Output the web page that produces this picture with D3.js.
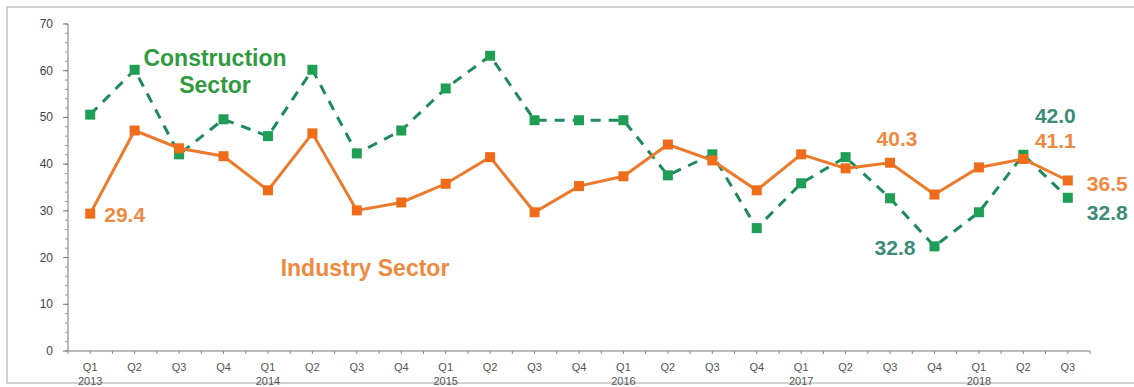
<!DOCTYPE html>
<html>
<head>
<meta charset="utf-8">
<script src="https://cdn.jsdelivr.net/npm/d3@7"></script>
<style>
  body { margin: 0; background: #fff; }
  svg { display: block; font-family: "Liberation Sans", Arial, sans-serif; }
</style>
</head>
<body>
<div id="chart"></div>
<script>
// Data
const quarters = ["Q1","Q2","Q3","Q4","Q1","Q2","Q3","Q4","Q1","Q2","Q3","Q4",
                  "Q1","Q2","Q3","Q4","Q1","Q2","Q3","Q4","Q1","Q2","Q3"];
const yearLabels = ["2013","","","","2014","","","","2015","","","",
                    "2016","","","","2017","","","","2018","",""];
const industry = [29.4, 47.2, 43.4, 41.7, 34.4, 46.6, 30.1, 31.8, 35.8, 41.5, 29.7, 35.3,
                  37.4, 44.2, 40.8, 34.4, 42.1, 39.1, 40.3, 33.5, 39.3, 41.1, 36.5];
const construction = [50.6, 60.2, 42.1, 49.6, 46.0, 60.2, 42.3, 47.2, 56.2, 63.2, 49.4, 49.4,
                      49.4, 37.6, 42.1, 26.3, 35.9, 41.5, 32.7, 22.4, 29.7, 42.0, 32.8];
const yTicks = [0, 10, 20, 30, 40, 50, 60, 70];

const W = 1134, H = 387;
const orange = "#ec7a2c", green = "#1f9e55", greenLine = "#1d8a5c", greenText = "#3a8c78";
const orangeText = "#ee8a40", titleGreen = "#2f9a3e";

const svg = d3.select("#chart").append("svg").attr("width", W).attr("height", H);

// frame
svg.append("rect").attr("x", 7).attr("y", 7).attr("width", W).attr("height", 376)
  .attr("fill", "none").attr("stroke", "#b5b5b5").attr("stroke-width", 1.2);

const idx = d3.range(quarters.length);
const x = d3.scaleBand().domain(idx).range([68, 1090]);
const y = d3.scaleLinear().domain([0, 70]).range([351, 24]);
const cx = i => x(i) + x.bandwidth() / 2;

// Y axis
const yAxis = svg.append("g").attr("transform", "translate(68,0)");
yAxis.append("line").attr("y1", y(0)).attr("y2", y(70)).attr("stroke", "#777");
yAxis.selectAll("line.minor").data(d3.range(0, 71, 2)).join("line").attr("class", "minor")
  .attr("x1", -3).attr("x2", 0).attr("y1", d => y(d)).attr("y2", d => y(d)).attr("stroke", "#999");
yAxis.selectAll("line.major").data(yTicks).join("line").attr("class", "major")
  .attr("x1", -5).attr("x2", 0).attr("y1", d => y(d)).attr("y2", d => y(d)).attr("stroke", "#777");
yAxis.selectAll("text").data(yTicks).join("text")
  .attr("x", -15).attr("y", d => y(d) + 4).attr("text-anchor", "end")
  .attr("font-size", 12).attr("fill", "#444").text(d => d);

// X axis
const xAxis = svg.append("g");
xAxis.append("line").attr("x1", 68).attr("x2", 1090).attr("y1", y(0)).attr("y2", y(0)).attr("stroke", "#777");
const halfTicks = d3.range(0, quarters.length * 2 + 1).map(k => 68 + k * x.bandwidth() / 2);
xAxis.selectAll("line.tick").data(halfTicks).join("line").attr("class", "tick")
  .attr("x1", d => d).attr("x2", d => d).attr("y1", y(0)).attr("y2", y(0) + 3).attr("stroke", "#888");
xAxis.selectAll("text.q").data(idx).join("text").attr("class", "q")
  .attr("x", cx).attr("y", 371).attr("text-anchor", "middle")
  .attr("font-size", 11).attr("fill", "#555").text(i => quarters[i]);
xAxis.selectAll("text.yr").data(idx.filter(i => yearLabels[i])).join("text").attr("class", "yr")
  .attr("x", cx).attr("y", 385).attr("text-anchor", "middle")
  .attr("font-size", 11).attr("fill", "#555").text(i => yearLabels[i]);

// Lines
const line = vals => d3.line().x(cx).y(i => y(vals[i]))(idx);

svg.append("path").attr("d", line(construction)).attr("fill", "none")
  .attr("stroke", greenLine).attr("stroke-width", 3).attr("stroke-dasharray", "10 8");
svg.append("path").attr("d", line(industry)).attr("fill", "none")
  .attr("stroke", orange).attr("stroke-width", 3);

const ms = 10;
svg.selectAll("rect.c").data(idx).join("rect").attr("class", "c")
  .attr("x", i => cx(i) - ms / 2).attr("y", i => y(construction[i]) - ms / 2)
  .attr("width", ms).attr("height", ms).attr("fill", green);
svg.selectAll("rect.ind").data(idx).join("rect").attr("class", "ind")
  .attr("x", i => cx(i) - ms / 2).attr("y", i => y(industry[i]) - ms / 2)
  .attr("width", ms).attr("height", ms).attr("fill", "#ef6c1a");

// Labels
const label = (txt, px, py, color, size, anchor) =>
  svg.append("text").attr("x", px).attr("y", py).attr("fill", color)
    .attr("font-size", size).attr("font-weight", "bold")
    .attr("text-anchor", anchor || "start").text(txt);

label("Construction", 215, 66, titleGreen, 23, "middle");
label("Sector", 215, 93, titleGreen, 23, "middle");
label("Industry Sector", 365, 276, orangeText, 23, "middle");

label(industry[0].toFixed(1), cx(0) + 14, y(industry[0]) + 8, orangeText, 21);
label(industry[18].toFixed(1), cx(18) + 7, y(industry[18]) - 17, orangeText, 21, "middle");
label(industry[21].toFixed(1), cx(21) + 32, y(industry[21]) - 11, orangeText, 21, "middle");
label(construction[21].toFixed(1), cx(21) + 32, y(construction[21]) - 32, greenText, 21, "middle");
label(industry[22].toFixed(1), cx(22) + 19, y(industry[22]) + 11, orangeText, 21);
label(construction[22].toFixed(1), cx(22) + 19, y(construction[22]) + 22, greenText, 21);
label("32.8", cx(19) - 19, y(construction[19]) + 9, greenText, 21, "end");
</script>
</body>
</html>
